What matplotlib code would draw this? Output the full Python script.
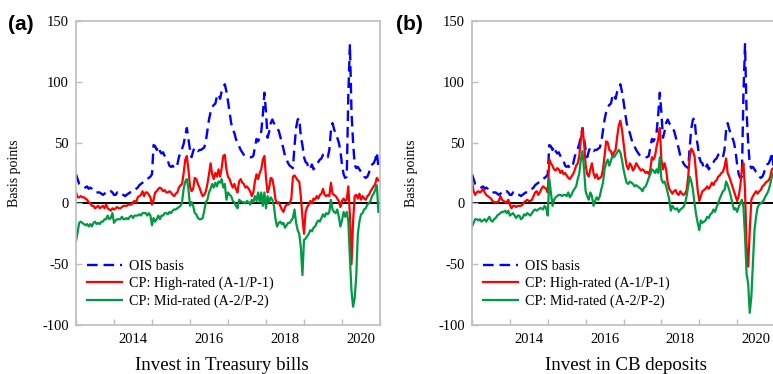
import numpy as np
import matplotlib.pyplot as plt

plt.rcParams['font.family'] = ['Liberation Serif', 'DejaVu Serif']
plt.rcParams['axes.unicode_minus'] = False

##==============================================================================

# Data (basis points), semi-monthly observations Jan 2013 - Dec 2020

dates = 2013 + np.arange(192) / 24

ois = [24, 20, 16, 15, 14, 14, 13, 14, 12, 13, 12, 10,
       9, 9, 9, 9, 8, 7, 8, 9, 10, 9, 10, 9,
       7, 7, 9, 7, 7, 7, 7, 6, 7, 8, 9, 9,
       9, 11, 12, 13, 15, 16, 17, 18, 20, 20, 21, 22,
       24, 48, 47, 44, 47, 43, 41, 42, 39, 37, 35, 31,
       30, 31, 29, 29, 32, 38, 42, 45, 49, 56, 62, 53,
       44, 38, 43, 46, 44, 43, 44, 44, 45, 46, 51, 60,
       69, 75, 79, 81, 82, 88, 90, 86, 92, 94, 98, 92,
       84, 75, 66, 61, 58, 53, 49, 47, 44, 42, 40, 39,
       38, 38, 38, 38, 39, 46, 53, 51, 54, 59, 73, 91,
       75, 54, 59, 66, 69, 66, 64, 61, 60, 55, 50, 45,
       39, 36, 33, 31, 30, 29, 47, 62, 69, 70, 55, 48,
       38, 34, 33, 28, 29, 32, 28, 30, 33, 34, 36, 37,
       40, 41, 39, 38, 44, 60, 66, 61, 57, 54, 50, 43,
       32, 24, 21, 22, 90, 131, 75, 50, 32, 29, 30, 28,
       26, 25, 22, 21, 22, 25, 30, 32, 33, 36, 42, 30]

# (a) invest in Treasury bills
tb_high = [9, 5, 5, 6, 5, 5, 4, 3, 1, 0, -2, -2,
           -4, -3, -2, -4, -3, -2, -4, -1, -4, -5, -6, -4,
           -5, -4, -3, -4, -4, -3, -2, -2, -2, -1, -1, -1,
           1, 2, 1, 5, 6, 7, 10, 6, 9, 9, 7, 5,
           -1, 3, 9, 10, 12, 13, 12, 10, 11, 9, 9, 10,
           9, 7, 6, 8, 9, 13, 15, 16, 25, 36, 39, 28,
           14, 10, 12, 21, 20, 16, 13, 9, 6, 7, 10, 16,
           24, 33, 24, 20, 25, 22, 28, 22, 29, 39, 40, 28,
           22, 20, 16, 13, 16, 12, 9, 18, 20, 17, 16, 13,
           14, 12, 10, 6, 9, 18, 24, 20, 25, 28, 36, 39,
           21, 9, 13, 21, 20, 13, 3, 0, 1, -2, -5, -7,
           -3, -1, -1, 0, 4, 22, 23, 21, 19, 18, 6, -11,
           -25, -7, -3, -1, 2, 0, 4, 3, 6, 4, 7, 8,
           12, 7, 6, 7, 6, 17, 8, 7, 6, 4, 2, -3,
           2, 4, 2, 3, 14, -10, -50, -15, 6, 7, 4, 8,
           3, 6, 4, 3, 6, 7, 10, 12, 14, 16, 21, 19]

tb_mid = [-31, -24, -16, -15, -16, -17, -18, -17, -19, -17, -19, -16,
          -15, -17, -16, -17, -15, -15, -13, -13, -10, -13, -12, -8,
          -16, -14, -13, -13, -13, -11, -13, -13, -12, -13, -11, -10,
          -12, -10, -10, -10, -9, -10, -8, -8, -8, -10, -8, -10,
          -18, -12, -15, -13, -10, -13, -10, -10, -8, -8, -9, -7,
          -8, -6, -5, -5, -4, -3, -2, 1, 12, 18, 20, 12,
          -2, 1, -2, -8, -9, -12, -13, -13, -12, -6, 1, 3,
          9, 12, 16, 13, 17, 14, 18, 17, 20, 13, 16, 3,
          9, 7, 6, 2, 1, -2, -4, 3, 2, 1, 1, 0,
          2, 1, -1, 3, 1, 6, 2, 9, 1, 9, -2, 9,
          -4, 6, 1, 5, 3, -2, -13, -19, -16, -15, -17, -16,
          -20, -18, -16, -16, -14, -12, -5, -16, -22, -25, -36, -59,
          -30, -29, -27, -25, -22, -23, -20, -19, -16, -14, -15, -12,
          -9, -11, -8, -9, -7, 3, -5, -7, -8, -5, -11, -19,
          -14, -7, -11, -7, -15, -45, -72, -85, -78, -60, -25, -15,
          -9, -8, -5, -4, -1, 0, 2, 6, 8, 11, 15, -7]

# (b) invest in CB deposits
cb_high = [18, 10, 7, 9, 10, 9, 10, 12, 9, 7, 6, 5,
           4, 2, 1, 1, 1, 2, 6, 3, 2, 1, 1, 3,
           -1, -4, -2, -2, -3, -2, -2, -2, -1, 1, 2, 3,
           2, 2, 3, 6, 9, 10, 7, 9, 12, 14, 13, 12,
           9, 36, 33, 31, 28, 27, 29, 28, 25, 27, 24, 25,
           23, 21, 20, 22, 24, 27, 31, 33, 39, 53, 62, 50,
           32, 24, 22, 28, 33, 25, 21, 24, 20, 21, 22, 28,
           39, 51, 50, 44, 43, 39, 42, 44, 55, 64, 68, 61,
           50, 39, 31, 28, 33, 31, 27, 29, 33, 31, 29, 27,
           28, 27, 25, 26, 24, 28, 38, 36, 39, 47, 53, 62,
           36, 28, 33, 28, 17, 12, 10, 8, 10, 11, 8, 7,
           10, 8, 7, 8, 11, 22, 39, 45, 43, 39, 25, 11,
           2, 6, 10, 11, 12, 14, 12, 14, 17, 15, 18, 19,
           22, 23, 25, 26, 30, 37, 25, 22, 18, 14, 10, 6,
           2, 6, 14, 28, 33, 11, -36, -52, -22, 3, 6, 8,
           10, 8, 10, 11, 14, 15, 17, 18, 19, 22, 28, 29]

cb_mid = [-19, -16, -13, -13, -14, -13, -15, -14, -13, -15, -13, -11,
          -14, -15, -13, -12, -10, -9, -8, -7, -7, -6, -8, -6,
          -10, -9, -8, -10, -12, -10, -10, -13, -12, -9, -10, -8,
          -9, -10, -8, -6, -5, -6, -5, -4, -4, -5, -2, -4,
          -10, 20, 9, -2, 3, 5, 6, 7, 7, 6, 7, 7,
          6, 9, 5, 7, 10, 12, 14, 20, 25, 36, 43, 28,
          10, 6, 3, 9, 6, -2, 2, 5, 3, 6, 12, 17,
          28, 33, 36, 31, 35, 39, 38, 40, 42, 44, 42, 36,
          28, 22, 17, 16, 18, 17, 16, 14, 15, 14, 13, 12,
          10, 13, 14, 17, 21, 24, 28, 27, 25, 28, 25, 38,
          20, 17, 18, 14, 9, 3, -6, -2, -4, -5, -4, -7,
          -5, -4, -3, 0, 6, 14, 22, 18, 11, 0, -9, -16,
          -22, -14, -16, -15, -14, -11, -12, -9, -8, -5, -7, -3,
          0, 4, 7, 10, 11, 18, 15, 11, 6, 0, -5, -4,
          -7, -3, 0, 3, -3, -27, -58, -66, -90, -77, -49, -22,
          -11, -3, -1, 0, 1, 3, 6, 8, 11, 16, 22, 25]

labels = ['OIS basis', 'CP: High-rated (A-1/P-1)', 'CP: Mid-rated (A-2/P-2)']
year_ticks = list(range(2013, 2022))
label_years = [2014, 2016, 2018, 2020]

##==============================================================================

# plotting

blue, red, green = '#0000ff', '#ff0000', '#009a44'
spine_grey = '#bebebe'

fig = plt.figure(figsize=(7.73, 3.74), dpi=100)
ax_a = fig.add_axes([76/773, 49/374, 304/773, 304/374])
ax_b = fig.add_axes([472/773, 49/374, 303/773, 304/374])


def draw_panel(ax, high, mid):
    ax.plot(dates, ois, c=blue, lw=1.7, dashes=(4.5, 2.5), label=labels[0])
    ax.plot(dates, high, c=red, lw=1.6, label=labels[1])
    ax.plot(dates, mid, c=green, lw=1.6, label=labels[2])
    ax.axhline(0, c='k', lw=1.4, zorder=1)

    ax.set_xlim(2013, 2021)
    ax.set_ylim(-100, 150)
    ax.set_yticks([-100, -50, 0, 50, 100, 150])
    ax.set_xticks(year_ticks)
    ax.set_xticklabels([])
    # year labels sit in the middle of the year
    ax.set_xticks([y + 0.5 for y in label_years], minor=True)
    ax.set_xticklabels([str(y) for y in label_years], minor=True)

    ax.tick_params(axis='both', which='major', direction='in', length=4,
                   width=1, color=spine_grey, labelsize=10.5, pad=5)
    ax.tick_params(axis='x', which='minor', length=0, labelsize=10.5, pad=6)
    for s in ax.spines.values():
        s.set_color(spine_grey)
        s.set_linewidth(1.2)

    ax.legend(loc='lower left', bbox_to_anchor=(0.035, 0.057), frameon=False,
              fontsize=10.2, handlelength=2.5, handletextpad=0.5,
              labelspacing=0.28, borderpad=0, borderaxespad=0)


draw_panel(ax_a, tb_high, tb_mid)
draw_panel(ax_b, cb_high, cb_mid)

fig.text(222/773, 1 - 365/374, 'Invest in Treasury bills', ha='center',
         va='center', fontsize=13.6)
fig.text(626/773, 1 - 365/374, 'Invest in CB deposits', ha='center',
         va='center', fontsize=13.6)
fig.text(15/773, 1 - 173/374, 'Basis points', rotation=90, ha='center',
         va='center', fontsize=10)
fig.text(412/773, 1 - 173/374, 'Basis points', rotation=90, ha='center',
         va='center', fontsize=10)
fig.text(21/773, 1 - 24/374, '(a)', ha='center', va='center', fontsize=15,
         fontweight='bold', family='Liberation Sans')
fig.text(409/773, 1 - 24/374, '(b)', ha='center', va='center', fontsize=15,
         fontweight='bold', family='Liberation Sans')

plt.savefig('out.png', dpi=100)
